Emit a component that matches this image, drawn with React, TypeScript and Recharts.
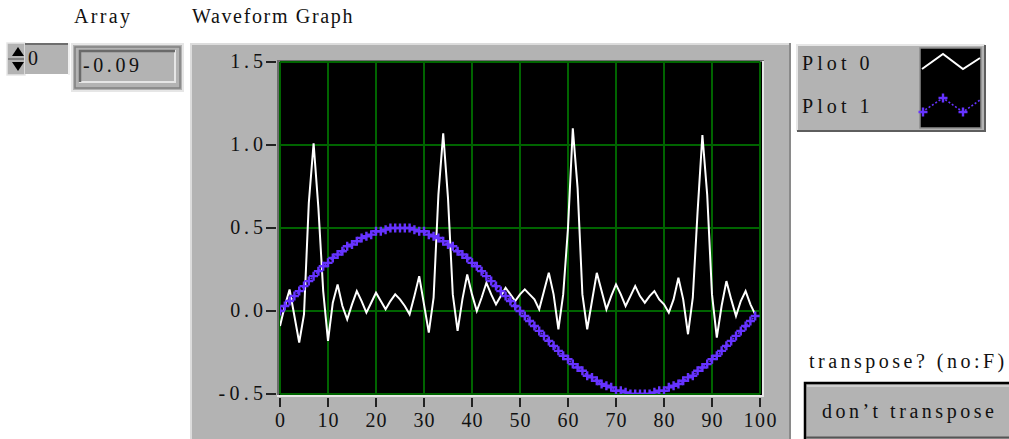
import { LineChart, Line, XAxis, YAxis, CartesianGrid } from 'recharts'

// sample index on the x axis (0..99)
const SAMPLE_INDEX = Array.from({ length: 100 }, (_, i) => i)

// Plot 0 (white)
const PLOT_0 = [
    -0.09, 0.03, 0.13, -0.03, -0.19, -0.02, 0.65, 1.01, 0.62, 0.12,
    -0.18, 0.05, 0.16, 0.03, -0.05, 0.04, 0.12, 0.06, -0.01, 0.05,
    0.11, 0.06, 0.01, 0.06, 0.1, 0.07, 0.03, -0.02, 0.09, 0.21,
    0.04, -0.13, 0.08, 0.7, 1.07, 0.68, 0.1, -0.12, 0.07, 0.22,
    0.1, 0.0, 0.08, 0.17, 0.1, 0.04, 0.09, 0.14, 0.1, 0.06,
    0.1, 0.13, 0.1, 0.07, 0.01, 0.12, 0.23, 0.1, -0.11, 0.1,
    0.5, 1.1, 0.74, 0.1, -0.11, 0.06, 0.23, 0.12, 0.01, 0.09,
    0.16, 0.1, 0.03, 0.09, 0.15, 0.09, 0.05, 0.09, 0.12, 0.07,
    0.04, -0.01, 0.07, 0.2, 0.07, -0.14, 0.08, 0.6, 1.06, 0.7,
    0.1, -0.16, 0.03, 0.18, 0.07, -0.03, 0.06, 0.12, 0.04, -0.02,
]

// Plot 1 (purple, + markers)
const PLOT_1 = [
    0, 0.03, 0.06, 0.09, 0.12, 0.15, 0.18, 0.21, 0.24, 0.27,
    0.29, 0.32, 0.34, 0.36, 0.39, 0.4, 0.42, 0.44, 0.45, 0.46,
    0.48, 0.48, 0.49, 0.5, 0.5, 0.5, 0.5, 0.5, 0.49, 0.48,
    0.48, 0.46, 0.45, 0.44, 0.42, 0.4, 0.39, 0.36, 0.34, 0.32,
    0.29, 0.27, 0.24, 0.21, 0.18, 0.15, 0.12, 0.09, 0.06, 0.03,
    0, -0.03, -0.06, -0.09, -0.12, -0.15, -0.18, -0.21, -0.24, -0.27,
    -0.29, -0.32, -0.34, -0.36, -0.39, -0.4, -0.42, -0.44, -0.45, -0.46,
    -0.48, -0.48, -0.49, -0.5, -0.5, -0.5, -0.5, -0.5, -0.49, -0.48,
    -0.48, -0.46, -0.45, -0.44, -0.42, -0.4, -0.39, -0.36, -0.34, -0.32,
    -0.29, -0.27, -0.24, -0.21, -0.18, -0.15, -0.12, -0.09, -0.06, -0.03,
]

const X_TICKS = [0, 10, 20, 30, 40, 50, 60, 70, 80, 90, 100]
const Y_TICKS = [-0.5, 0, 0.5, 1, 1.5]
const PLOT_NAMES = ['Plot 0', 'Plot 1']
const ARRAY_INDEX = 0
const ARRAY_VALUE = -0.09

const FONT = "'Liberation Serif', serif"
const FS = 20
const CW = 11.6 // the original font is fixed pitch, so every string gets n * CW
const GRAY = '#b3b3b3'
const PURPLE = '#6633ff'

const data = SAMPLE_INDEX.map((x, i) => ({ x, plot0: PLOT_0[i], plot1: PLOT_1[i] }))

// text stretched to the fixed-pitch width of the LabVIEW dialog font
function T({ x, y, s, anchor = 'start' }: { x: number; y: number; s: string; anchor?: string }) {
    const w = s.length * CW - 2
    return (
        <text
            x={x}
            y={y}
            textAnchor={anchor}
            fontFamily={FONT}
            fontSize={FS}
            fill="#111"
            textLength={s.length > 1 ? w : undefined}
            lengthAdjust="spacing"
        >
            {s}
        </text>
    )
}

function YTick(props: any) {
    const { x, y, payload } = props
    return (
        <g>
            <line x1={x - 14} x2={x - 4} y1={y} y2={y} stroke="#222" strokeWidth={2} />
            <T x={x - 17} y={y + 6} s={payload.value.toFixed(1)} anchor="end" />
        </g>
    )
}

function XTick(props: any) {
    const { x, y, payload } = props
    return (
        <g>
            <line x1={x} x2={x} y1={y + 4} y2={y + 13} stroke="#222" strokeWidth={2} />
            <T x={x} y={y + 33} s={String(payload.value)} anchor="middle" />
        </g>
    )
}

const cross = (p: any) => (
    <path
        key={`c${p.index}`}
        d={`M${p.cx - 4.5},${p.cy}h9M${p.cx},${p.cy - 4.5}v9`}
        stroke={PURPLE}
        strokeWidth={2.4}
        fill="none"
    />
)

function Panel() {
    return (
        <svg width={1009} height={439} style={{ position: 'absolute', left: 0, top: 0 }}>
            {/* labels */}
            <T x={74} y={23} s="Array" />
            <T x={192} y={23} s="Waveform Graph" />

            {/* index control */}
            <rect x={7} y={43} width={18} height={32} fill={GRAY} stroke="#e6e6e6" strokeWidth={1.5} />
            <line x1={8} x2={24} y1={59} y2={59} stroke="#6e6e6e" strokeWidth={1.5} />
            <path d="M12,56 L18,47 L24,56 Z" fill="#000" />
            <path d="M12,62 L18,71 L24,62 Z" fill="#000" />
            <rect x={25} y={43} width={45} height={31} fill={GRAY} />
            <line x1={25} x2={70} y1={44} y2={44} stroke="#6e6e6e" strokeWidth={2} />
            <line x1={69} x2={69} y1={43} y2={75} stroke="#f0f0f0" strokeWidth={2} />
            <T x={28} y={65} s={String(ARRAY_INDEX)} />

            {/* array element */}
            <rect x={72} y={44} width={111} height={47} fill={GRAY} stroke="#e6e6e6" strokeWidth={2} />
            <rect x={75} y={47} width={105} height={41} fill="none" stroke="#808080" strokeWidth={1.5} />
            <rect x={80} y={51} width={95} height={31} fill={GRAY} stroke="#e6e6e6" strokeWidth={2} />
            <path d="M80,82 V51 H175" fill="none" stroke="#6a6a6a" strokeWidth={2.5} />
            <T x={83} y={72} s={ARRAY_VALUE.toFixed(2)} />

            {/* graph panel */}
            <rect x={190} y={43} width={601} height={400} fill={GRAY} />
            <line x1={190} x2={791} y1={44} y2={44} stroke="#dcdcdc" strokeWidth={2} />
            <line x1={191} x2={191} y1={43} y2={439} stroke="#dcdcdc" strokeWidth={2} />
            <line x1={790} x2={790} y1={43} y2={439} stroke="#8a8a8a" strokeWidth={2} />

            {/* plot frame */}
            <rect x={277} y={60} width={487} height={337} fill="#000" />
            <path d="M278,397 V61 H764" fill="none" stroke="#6b6b6b" strokeWidth={2} />
            <path d="M277,396 H763 V61" fill="none" stroke="#e8e8e8" strokeWidth={2} />

            {/* legend */}
            <rect x={796} y={44} width={189} height={87} fill={GRAY} />
            <path d="M797,131 V45 H985" fill="none" stroke="#e6e6e6" strokeWidth={2} />
            <path d="M797,131 H985 V45" fill="none" stroke="#5e5e5e" strokeWidth={2} />
            <rect x={920} y={48} width={61} height={80} fill="#000" stroke="#8c8c8c" strokeWidth={1.5} />
            <T x={802} y={70} s={PLOT_NAMES[0]} />
            <T x={802} y={113} s={PLOT_NAMES[1]} />
            <polyline points="922,69 943,54 963,69 980,58" fill="none" stroke="#fff" strokeWidth={2} />
            <polyline points="922,112 943,98 963,112 980,100" fill="none" stroke={PURPLE} strokeWidth={1.6} strokeDasharray="2 2" />
            {[[923, 112], [943, 98], [963, 112]].map(([cx, cy]) => (
                <path key={cx} d={`M${cx - 4.5},${cy}h9M${cx},${cy - 4.5}v9`} stroke={PURPLE} strokeWidth={2.4} />
            ))}

            {/* boolean control */}
            <T x={809} y={368} s="transpose? (no:F)" />
            <rect x={804} y={382} width={215} height={60} fill={GRAY} />
            <path d="M805,439 V383 H1009" fill="none" stroke="#000" strokeWidth={2.5} />
            <line x1={807} x2={1009} y1={386} y2={386} stroke="#d8d8d8" strokeWidth={1.5} />
            <line x1={806} x2={1009} y1={437.5} y2={437.5} stroke="#555" strokeWidth={2} />
            <T x={822} y={418} s="don’t transpose" />
        </svg>
    )
}

export default function App() {
    return (
        <div style={{ position: 'fixed', left: 0, top: 0, width: 1009, height: 439, background: '#fff', overflow: 'hidden' }}>
            <Panel />
            <div style={{ position: 'absolute', left: 190, top: 42, width: 600, height: 397 }}>
                <LineChart width={600} height={397} data={data} margin={{ top: 20, right: 30, bottom: 5, left: 30 }}>
                    <CartesianGrid fill="#000" fillOpacity={1} stroke="#006400" strokeWidth={2} />
                    <XAxis
                        type="number"
                        dataKey="x"
                        domain={[0, 100]}
                        ticks={X_TICKS}
                        interval={0}
                        axisLine={false}
                        tickLine={false}
                        tickSize={0}
                        tickMargin={0}
                        height={40}
                        tick={<XTick />}
                        allowDataOverflow
                    />
                    <YAxis
                        type="number"
                        domain={[-0.5, 1.5]}
                        ticks={Y_TICKS}
                        interval={0}
                        axisLine={false}
                        tickLine={false}
                        tickSize={0}
                        tickMargin={0}
                        width={60}
                        tick={<YTick />}
                        allowDataOverflow
                    />
                    <Line dataKey="plot1" stroke={PURPLE} strokeWidth={1.5} strokeDasharray="2 2" dot={cross} isAnimationActive={false} />
                    <Line dataKey="plot0" stroke="#fff" strokeWidth={2} dot={false} isAnimationActive={false} />
                </LineChart>
            </div>
        </div>
    )
}
